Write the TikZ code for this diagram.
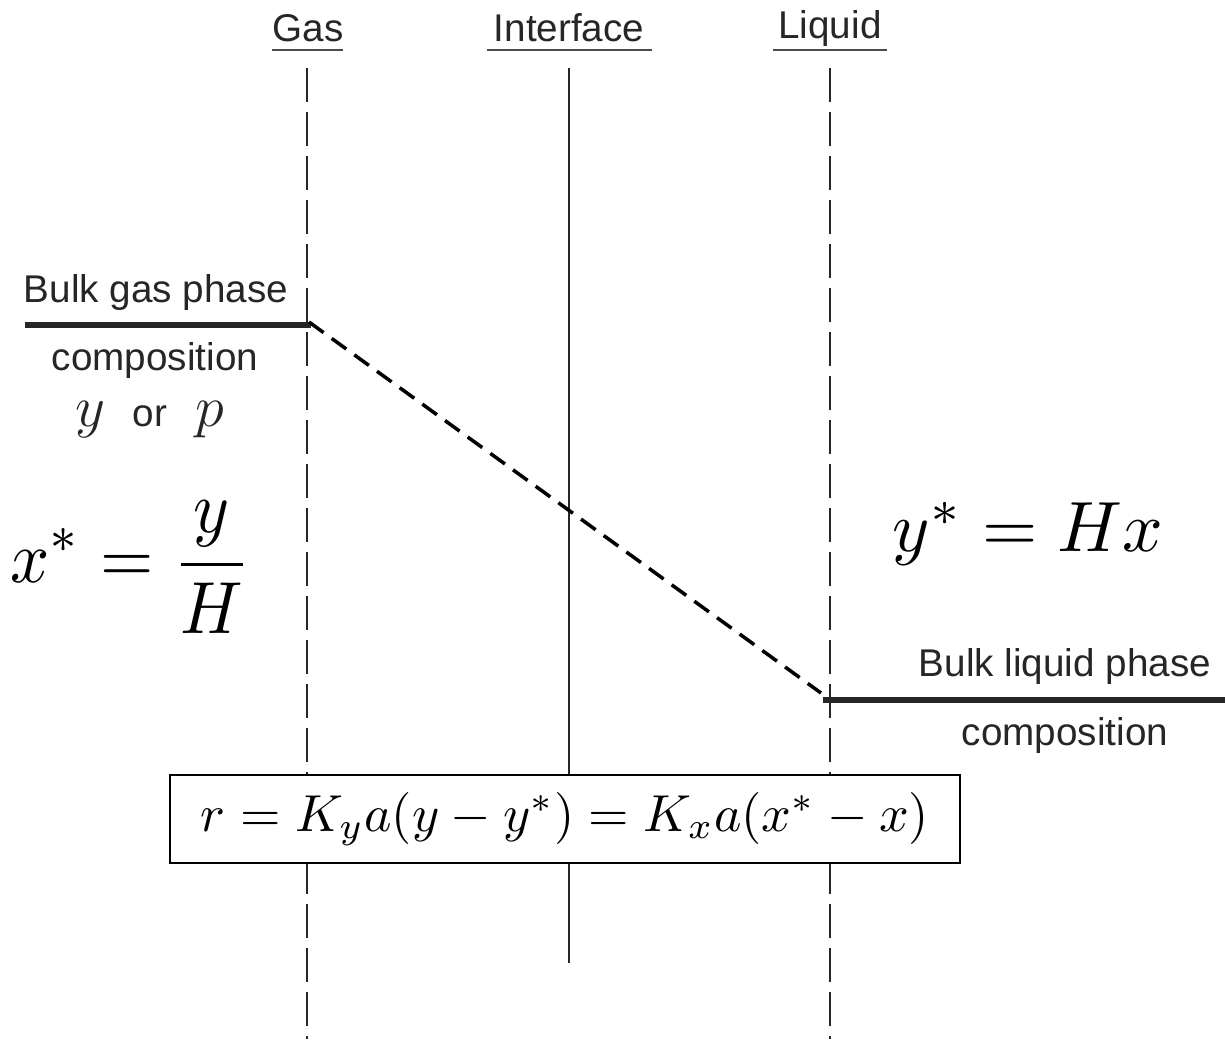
\documentclass[tikz,border=0pt]{standalone}
\usepackage{fontspec}
\setmainfont{Liberation Sans}
\begin{document}
\begin{tikzpicture}[x=0.02cm,y=-0.02cm,
  lbl/.style={font=\fontsize{22}{26}\selectfont, text=black!85, inner sep=1pt},
  phase/.style={line width=3pt, black!85},
  film/.style={line width=1.6pt, black!85, dash pattern=on 0.68cm off 0.2cm},
  iface/.style={line width=1.5pt, black!85},
  prof/.style={line width=2pt, dash pattern=on 0.36cm off 0.2cm},
  bigmath/.style={inner sep=0pt},
  boxeq/.style={draw, line width=1pt, fill=white, minimum width=15.8cm, minimum height=1.76cm, inner sep=0pt}]
\useasboundingbox (0,0) rectangle (1225,1039);
% headings
\node[lbl] (gas) at (308,28) {Gas};
\node[lbl] (intf) at (569,28) {Interface};
\node[lbl] (liq) at (830,28) {Liquid};
\draw[black!70, line width=0.9pt] (272,50) -- (343,50);
\draw[black!70, line width=0.9pt] (487,50) -- (652,50);
\draw[black!70, line width=0.9pt] (773,50) -- (887,50);
% vertical lines
\coordinate (gtop) at (307,68); \coordinate (gbot) at (307,1039);
\coordinate (itop) at (569,68); \coordinate (ibot) at (569,963);
\coordinate (ltop) at (830,68); \coordinate (lbot) at (830,1039);
\draw[film] (gtop) -- (gbot);
\draw[iface] (itop) -- (ibot);
\draw[film] (ltop) -- (lbot);
% bulk phase lines
\coordinate (g0) at (25,325); \coordinate (g1) at (311,325);
\coordinate (l0) at (823,700); \coordinate (l1) at (1225,700);
\draw[phase] (g0) -- (g1);
\draw[phase] (l0) -- (l1);
\coordinate (d0) at (309,322); \coordinate (d1) at (821,693);
\draw[prof] (d0) -- (d1);
% labels
\node[lbl] (bg) at (156,292) {Bulk gas phase};
\node[lbl] (bgc) at (155,360) {composition};
\node[lbl] (yv) at (90,420) {\scalebox{1.6}{$y$}};
\node[lbl] (orv) at (150,416) {or};
\node[lbl] (pv) at (210,420) {\scalebox{1.6}{$p$}};
\node[lbl] (bl) at (1065,666) {Bulk liquid phase};
\node[lbl] (blc) at (1065,735) {composition};
% equations
\node[bigmath] (xs) at (131,567) {\scalebox{3.9}[4.2]{$\displaystyle x^{*}=\frac{y}{H}$}};
\node[bigmath] (ys) at (1028,534) {\scalebox{4.05}{$y^{*}=Hx$}};
\node[boxeq] (rate) at (565,819) {\scalebox{2.96}{$r=K_{y}a(y-y^{*})=K_{x}a(x^{*}-x)$}};
\end{tikzpicture}
\end{document}
